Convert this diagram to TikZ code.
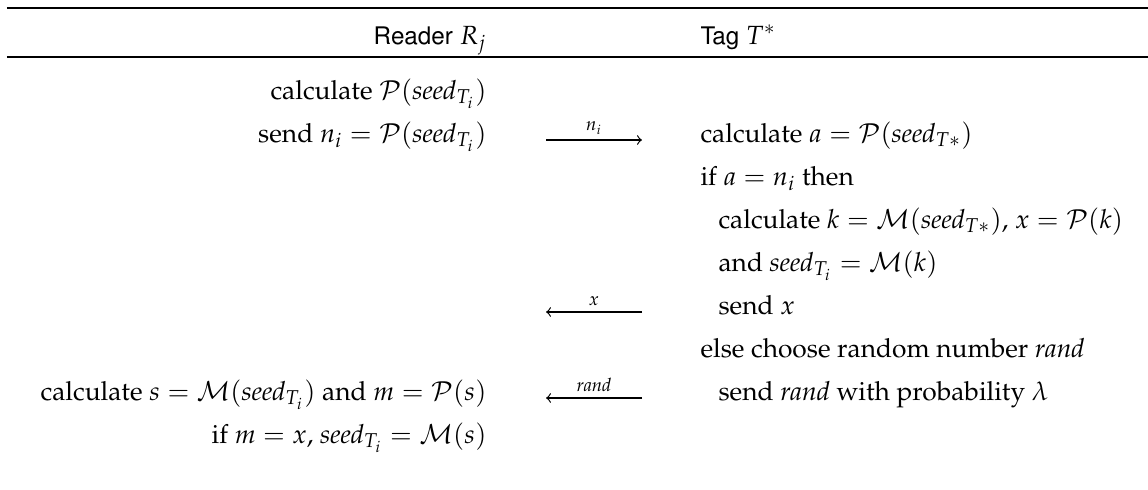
\documentclass[tikz,border=0pt]{standalone}
\usepackage[T1]{fontenc}
\usepackage{mathpazo}
\usepackage[scaled=0.92]{helvet}

\begin{document}
\begin{tikzpicture}[
  x=0.38pt, y=-0.38pt,
  reader/.style={anchor=base east, inner sep=0pt},
  tag/.style={anchor=base west, inner sep=0pt},
  head/.style={font=\sffamily, inner sep=0pt},
  rule/.style={line width=1.1pt},
  msg/.style={->, line width=0.45pt},
  lbl/.style={above, inner sep=2pt, font=\scriptsize}
]
\useasboundingbox (0,0) rectangle (1148,489);

% Header rules and titles
\draw[rule] (7,8) -- (1148,8);
\node[head, anchor=base east] (reader) at (487,44) {Reader $R_j$};
\node[head, anchor=base west] (tag) at (700,44) {Tag $T^*$};
\draw[rule] (7,57) -- (1148,57);

% Reader side
\node[reader] (r1) at (487,99) {calculate $\mathcal{P}(\mathit{seed}_{T_i})$};
\node[reader] (r2) at (487,142) {send $n_i = \mathcal{P}(\mathit{seed}_{T_i})$};
\node[reader] (r3) at (487,400) {calculate $s = \mathcal{M}(\mathit{seed}_{T_i})$ and $m = \mathcal{P}(s)$};
\node[reader] (r4) at (487,443) {if $m = x$, $\mathit{seed}_{T_i} = \mathcal{M}(s)$};

% Tag side
\node[tag] (t1) at (700,142) {calculate $a = \mathcal{P}(\mathit{seed}_{T*})$};
\node[tag] (t2) at (700,185) {if $a = n_i$ then};
\node[tag] (t3) at (718,228) {calculate $k = \mathcal{M}(\mathit{seed}_{T*})$, $x = \mathcal{P}(k)$};
\node[tag] (t4) at (718,271) {and $\mathit{seed}_{T_i} = \mathcal{M}(k)$};
\node[tag] (t5) at (718,314) {send $x$};
\node[tag] (t6) at (700,357) {else choose random number $\mathit{rand}$};
\node[tag] (t7) at (718,400) {send $\mathit{rand}$ with probability $\lambda$};

% Messages
\coordinate (ni-a) at (546,140);
\coordinate (ni-b) at (642,140);
\coordinate (x-a) at (642,312);
\coordinate (x-b) at (546,312);
\coordinate (rand-a) at (642,398);
\coordinate (rand-b) at (546,398);
\draw[msg] (ni-a) -- (ni-b) node[lbl, midway] {$n_i$};
\draw[msg] (x-a) -- (x-b) node[lbl, midway] {$x$};
\draw[msg] (rand-a) -- (rand-b) node[lbl, midway] {$\mathit{rand}$};

\end{tikzpicture}
\end{document}
